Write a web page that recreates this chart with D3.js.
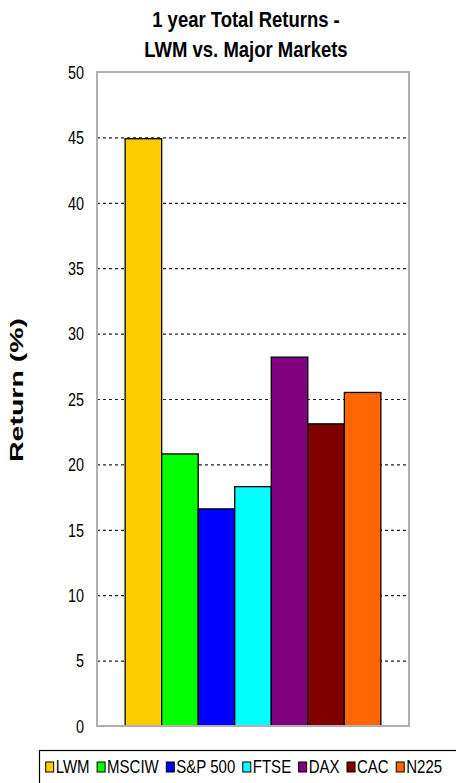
<!DOCTYPE html>
<html>
<head>
<meta charset="utf-8">
<script src="https://cdn.jsdelivr.net/npm/d3@7/dist/d3.min.js"></script>
<style>
  html, body { margin: 0; padding: 0; background: #fff; }
  svg { display: block; }
  text { font-family: "Liberation Sans", Arial, Helvetica, sans-serif; fill: #000; }
</style>
</head>
<body>
<svg id="chart" width="456" height="783"></svg>
<script>
const categories = ["LWM", "MSCIW", "S&P 500", "FTSE", "DAX", "CAC", "N225"];
const values = [44.9, 20.8, 16.6, 18.3, 28.2, 23.1, 25.5];
const colors = ["#FFCC00", "#00FF00", "#0000FF", "#00FFFF", "#800080", "#800000", "#FF6600"];
const yTicks = [0, 5, 10, 15, 20, 25, 30, 35, 40, 45, 50];
const titleLines = ["1 year Total Returns -", "LWM vs. Major Markets"];
const yTitle = "Return (%)";

const svg = d3.select("#chart");
const plot = { left: 97, right: 409, top: 72, bottom: 726 };

function squeeze(sel, ratio) {
  sel.each(function () {
    const len = this.getComputedTextLength();
    d3.select(this).attr("textLength", len * ratio).attr("lengthAdjust", "spacingAndGlyphs");
  });
}

const x = d3.scaleBand().domain(categories).range([plot.left, plot.right])
  .paddingInner(0).paddingOuter(0.77);
const y = d3.scaleLinear().domain([0, 50]).range([plot.bottom, plot.top]);

// plot background
svg.append("rect").attr("x", plot.left).attr("y", plot.top)
  .attr("width", plot.right - plot.left).attr("height", plot.bottom - plot.top)
  .attr("fill", "#fff");

// gridlines
const grid = d3.axisLeft(y).tickValues(yTicks.filter(t => t > 0 && t < 50))
  .tickSize(-(plot.right - plot.left)).tickFormat("");
const gg = svg.append("g").attr("transform", `translate(${plot.left},0)`).call(grid);
gg.select(".domain").remove();
gg.selectAll("line").attr("stroke", "#222").attr("stroke-width", 1.2)
  .attr("stroke-dasharray", "3,3");

// bars
svg.append("g").selectAll("rect").data(categories).join("rect")
  .attr("x", d => x(d))
  .attr("y", (d, i) => y(values[i]))
  .attr("width", x.bandwidth())
  .attr("height", (d, i) => y(0) - y(values[i]))
  .attr("fill", (d, i) => colors[i])
  .attr("stroke", "#000").attr("stroke-width", 1.3);

// plot border
svg.append("rect").attr("x", plot.left).attr("y", plot.top)
  .attr("width", plot.right - plot.left).attr("height", plot.bottom - plot.top)
  .attr("fill", "none").attr("stroke", "#b0b0b0").attr("stroke-width", 2);

// y axis labels
const yAxis = d3.axisLeft(y).tickValues(yTicks).tickSize(0).tickPadding(13);
const ya = svg.append("g").attr("transform", `translate(${plot.left},0)`).call(yAxis);
ya.select(".domain").remove();
ya.selectAll("text").attr("font-size", 18).attr("fill", "#000")
  .style("font-family", '"Liberation Sans", Arial, sans-serif').attr("dy", "0.35em");
squeeze(ya.selectAll("text"), 0.8);

// title
const tt = svg.append("g").selectAll("text").data(titleLines).join("text")
  .attr("x", 246).attr("y", (d, i) => 27 + i * 30)
  .attr("text-anchor", "middle").attr("font-size", 22).attr("font-weight", "bold")
  .text(d => d);
squeeze(tt, 0.84);

// y title
svg.append("text")
  .attr("transform", "translate(23,390) rotate(-90)")
  .attr("text-anchor", "middle").attr("font-size", 18).attr("font-weight", "bold")
  .attr("textLength", 144).attr("lengthAdjust", "spacingAndGlyphs")
  .text(yTitle);

// legend
svg.append("rect").attr("x", 39.5).attr("y", 750.5).attr("width", 430).attr("height", 40)
  .attr("fill", "#fff").attr("stroke", "#000").attr("stroke-width", 1.2);
let lx = 45.7;
categories.forEach((c, i) => {
  svg.append("rect").attr("x", lx).attr("y", 762).attr("width", 8).attr("height", 10)
    .attr("fill", colors[i]).attr("stroke", "#000").attr("stroke-width", 1);
  const t = svg.append("text").attr("x", lx + 10).attr("y", 773)
    .attr("font-size", 19).text(c);
  squeeze(t, 0.79);
  const w = +t.attr("textLength");
  lx += 10 + w + 7.5;
});
</script>
</body>
</html>
